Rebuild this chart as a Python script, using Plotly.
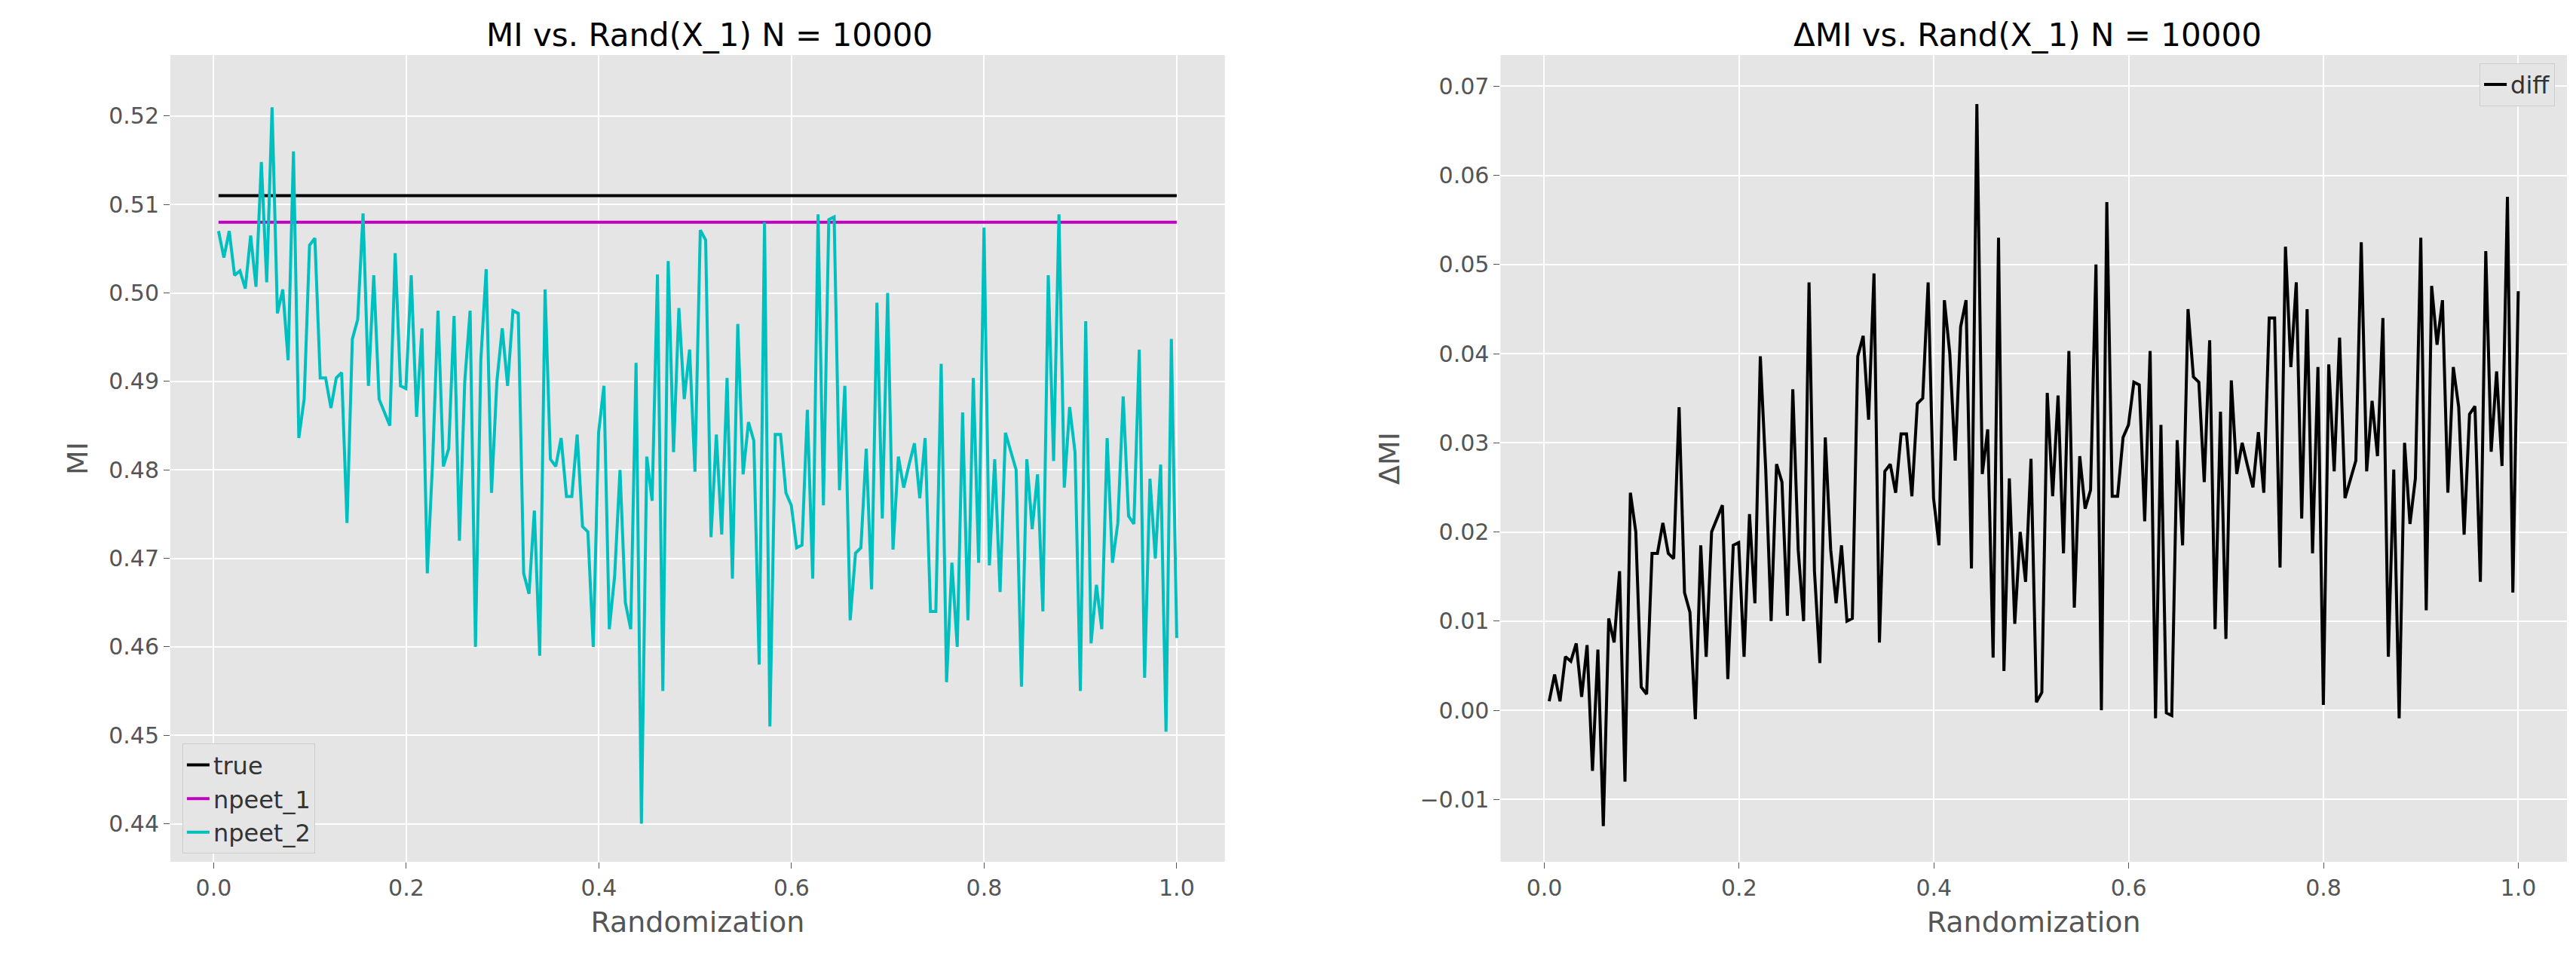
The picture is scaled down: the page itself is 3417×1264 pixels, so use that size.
import numpy as np
import plotly.graph_objects as go
from plotly.subplots import make_subplots

true_mi = 0.511
npeet_1_mi = 0.508
diff = [0.001,0.004,0.001,0.006,0.0055,0.0075,0.0015,0.0073,-0.0068,0.0068,-0.013,0.0103,0.0076,0.0156,-0.008,0.0244,0.020,0.0026,0.0018,0.0176,0.0176,0.021,0.0176,0.017,0.034,0.0132,0.011,-0.001,0.0185,0.006,0.020,0.0215,0.023,0.0035,0.0185,0.0188,0.006,0.022,0.012,0.0397,0.027,0.010,
0.0276,0.0256,0.0106,0.036,0.018,0.010,0.048,0.0156,0.0053,0.0306,0.018,0.012,0.0185,0.010,0.0103,0.0397,0.042,0.0326,0.049,0.0076,0.0268,0.0276,0.0244,0.031,0.031,0.024,0.0344,0.035,0.048,0.0238,0.0185,0.046,0.040,0.028,0.043,0.046,0.0159,0.068,0.0265,0.0315,0.0059,0.053,0.0044,0.026,0.0097,0.020,0.0144,
0.0282,0.0009,0.002,0.0356,0.024,0.0353,0.0176,0.0403,0.0115,0.0285,0.0226,0.0247,0.050,0.0,0.057,0.024,0.024,0.0306,0.032,0.0368,0.0365,0.0212,0.0403,-0.0009,0.032,-0.0003,-0.0006,0.0303,0.0185,0.045,0.0374,0.0368,0.0256,0.0415,0.0091,0.0335,0.008,0.037,0.0265,0.030,0.0274,0.025,0.0312,0.0244,0.044,
0.044,0.016,0.052,0.0385,0.048,0.0215,0.045,0.0176,0.0385,0.0006,0.0388,0.0268,0.0418,0.0238,0.026,0.028,0.0525,0.0268,0.0347,0.0285,0.044,0.006,0.027,-0.0009,0.030,0.0209,0.026,0.053,0.0112,0.0476,0.041,0.046,0.0244,0.0385,0.034,0.0197,0.0332,0.0341,0.0144,0.0515,0.029,0.038,0.0274,0.0576,0.0132,0.047]
randomization = np.linspace(0.005, 1.0, len(diff))
npeet_2 = [npeet_1_mi - d for d in diff]

fig = make_subplots(rows=1, cols=2, horizontal_spacing=0.1,
                    subplot_titles=("MI vs. Rand(X_1) N = 10000", "ΔMI vs. Rand(X_1) N = 10000"))
xs = [randomization[0], randomization[-1]]
fig.add_trace(go.Scatter(x=xs, y=[true_mi]*2, mode="lines", name="true", line=dict(color="black", width=4), legend="legend"), 1, 1)
fig.add_trace(go.Scatter(x=xs, y=[npeet_1_mi]*2, mode="lines", name="npeet_1", line=dict(color="#bf00bf", width=4), legend="legend"), 1, 1)
fig.add_trace(go.Scatter(x=randomization, y=npeet_2, mode="lines", name="npeet_2", line=dict(color="#00bfbf", width=4), legend="legend"), 1, 1)
fig.add_trace(go.Scatter(x=randomization, y=diff, mode="lines", name="diff", line=dict(color="black", width=4), legend="legend2"), 1, 2)

ax = dict(showgrid=True, gridcolor="white", gridwidth=2, zeroline=False, ticks="outside", ticklen=8,
          tickcolor="#555", tickfont=dict(size=30, color="#555"), showline=False)
fig.update_xaxes(**ax, range=[-0.045, 1.05], dtick=0.2, tickformat=".1f",
                 title=dict(text="Randomization", font=dict(size=38, color="#555")))
fig.update_yaxes(**ax)
fig.update_yaxes(range=[0.4357, 0.5269], dtick=0.01, tickformat=".2f",
                 title=dict(text="MI", font=dict(size=38, color="#555")), row=1, col=1)
fig.update_yaxes(range=[-0.017, 0.0735], dtick=0.01, tickformat=".2f",
                 title=dict(text="ΔMI", font=dict(size=38, color="#555")), row=1, col=2)
for a in fig.layout.annotations:
    a.font = dict(size=42, color="black")

fig.update_layout(
    width=3417, height=1264, paper_bgcolor="white", plot_bgcolor="#e5e5e5",
    font=dict(family="DejaVu Sans"),
    margin=dict(l=218, r=20, t=65, b=129),
    legend=dict(x=0.005, y=0.01, xanchor="left", yanchor="bottom", bgcolor="#e5e5e5",
                bordercolor="#cccccc", borderwidth=1, font=dict(size=32, color="#333")),
    legend2=dict(x=0.995, y=0.99, xanchor="right", yanchor="top", xref="paper",
                 bgcolor="#e5e5e5", bordercolor="#cccccc", borderwidth=1, font=dict(size=32, color="#333")),
)
fig.update_layout(xaxis=dict(domain=[0, 0.44]), xaxis2=dict(domain=[0.555, 1.0]))
fig.write_html("out.html")
